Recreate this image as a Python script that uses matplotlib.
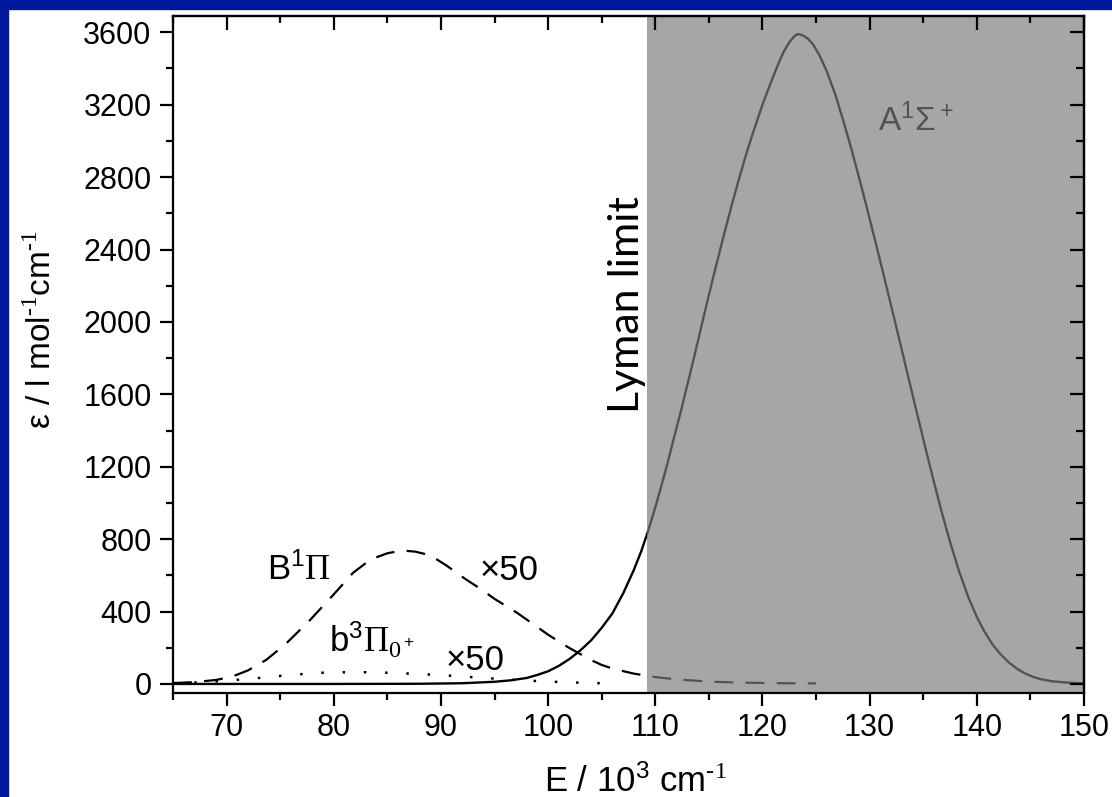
import matplotlib
matplotlib.use("Agg")
import matplotlib.pyplot as plt
from matplotlib.patches import Rectangle
from matplotlib.ticker import MultipleLocator

plt.rcParams['font.family'] = ['Liberation Sans', 'DejaVu Sans']
plt.rcParams['mathtext.fontset'] = 'custom'
plt.rcParams['mathtext.rm'] = 'Liberation Serif'
plt.rcParams['mathtext.sf'] = 'Liberation Sans'
plt.rcParams['mathtext.it'] = 'Liberation Sans:italic'
plt.rcParams['mathtext.default'] = 'regular'

# A1Sigma+ band (solid)
a_E = [65, 80, 88, 92, 95, 96.5, 98, 99, 100, 101, 102, 103, 104, 105, 106, 107,
       108, 108.7, 109.3, 110, 110.5, 111.1, 111.7, 112.4, 113, 113.6, 114.2, 114.8,
       115.5, 116.4, 117.2, 118, 118.6, 119.2, 120, 120.7, 121.3, 121.7, 122.0,
       122.5, 123.0, 123.3, 123.7, 124.2, 124.7, 125.3, 126, 126.8, 127.6, 128.3,
       129, 129.7, 130.4, 131.2, 132, 132.5, 133, 133.7, 134.5, 135.2, 136, 136.7,
       137.5, 138.3, 139.2, 140, 140.7, 141.5, 142.2, 143, 143.8, 144.5, 145.3,
       146, 147, 148.5, 150]
a_eps = [0, 0, 1, 4, 12, 20, 33, 50, 70, 100, 138, 185, 240, 310, 390, 500,
         630, 735, 840, 975, 1080, 1210, 1350, 1510, 1655, 1800, 1950, 2100,
         2270, 2480, 2660, 2830, 2950, 3060, 3200, 3310, 3400, 3455, 3495,
         3545, 3580, 3590, 3585, 3567, 3535, 3475, 3385, 3255, 3100, 2955,
         2800, 2640, 2475, 2285, 2090, 1968, 1845, 1672, 1475, 1305, 1115, 955,
         785, 630, 480, 370, 290, 215, 165, 118, 82, 58, 38,
         26, 15, 7, 3]

# B1Pi band x50 (dashed)
b1_E = [65, 67, 69, 70.5, 72, 73.7, 75.5, 77.8, 80, 81.8, 83, 84, 85, 86, 86.8,
        87.6, 88.5, 89.5, 90.5, 91.5, 92.4, 93.7, 95, 97.1, 98.5, 100, 101.8, 103,
        104, 105, 106, 108, 110, 112, 115, 118, 122, 125]
b1_eps = [5, 10, 22, 40, 75, 133, 220, 354, 495, 614, 668, 700, 722, 733, 735,
          731, 718, 692, 655, 612, 575, 525, 470, 393, 335, 272, 205, 165,
          132, 105, 85, 57, 38, 25, 13, 7, 4, 3]

# b3Pi0+ band x50 (dotted)
b3_E = [65, 68, 70, 73, 76, 79, 82, 85, 88, 91, 94, 97, 100, 103, 105]
b3_eps = [3, 10, 18, 33, 50, 62, 66, 62, 55, 45, 33, 22, 13, 7, 4]

lyman = 109.25

fig = plt.figure(figsize=(11.12, 7.97), dpi=100)
fig.patch.set_facecolor('white')
blue = '#0018a0'
fig.patches.append(Rectangle((0, 1 - 9 / 797), 1, 9 / 797, transform=fig.transFigure,
                             color=blue, zorder=0))
fig.patches.append(Rectangle((0, 0), 8 / 1112, 1, transform=fig.transFigure,
                             color=blue, zorder=0))

ax = fig.add_axes([173 / 1112, 104 / 797, 911 / 1112, 677 / 797])

ax.plot(a_E, a_eps, color='black', lw=1.7, zorder=2)
ax.plot(b1_E, b1_eps, color='black', lw=1.6, ls=(0, (8.5, 5.5)), zorder=2)
ax.plot(b3_E, b3_eps, color='black', lw=1.8, ls=(0, (1, 7.5)), zorder=2)

ax.text(130.75, 3053, r'A$^1$Σ$^+$', fontsize=24, color='black', zorder=2.05)
ax.axvspan(lyman, 150, color='#7c7c7c', alpha=0.68, lw=0, zorder=2.1)

ax.text(73.8, 575, r'B$^1$$\mathrm{Π}$', fontsize=25)
ax.text(93.6, 575, '×50', fontsize=25)
ax.text(79.6, 177, r'b$^3$$\mathrm{Π}_{\mathrm{0}^+}$', fontsize=25)
ax.text(90.4, 77, '×50', fontsize=25)
ax.text(109.15, 2096, 'Lyman limit', fontsize=31, family=['Lato', 'DejaVu Sans'],
        rotation=90, ha='right', va='center', zorder=3)

ax.set_xlim(65, 150)
ax.set_ylim(-50, 3690)
ax.xaxis.set_major_locator(MultipleLocator(10))
ax.xaxis.set_minor_locator(MultipleLocator(5))
ax.yaxis.set_major_locator(MultipleLocator(400))
ax.yaxis.set_minor_locator(MultipleLocator(200))
ax.tick_params(which='both', direction='out', top=False, right=False, width=1.6,
               labelsize=22)
ax.tick_params(which='major', length=9.5)
ax.tick_params(which='minor', length=5)
ax.tick_params(axis='y', pad=6)
ax.tick_params(axis='x', pad=5)
for s in ax.spines.values():
    s.set_linewidth(1.6)
    s.set_zorder(3)

secx = ax.secondary_xaxis('top')
secx.xaxis.set_major_locator(MultipleLocator(10))
secx.xaxis.set_minor_locator(MultipleLocator(5))
secx.tick_params(which='both', direction='in', labeltop=False, width=1.6)
secx.tick_params(which='major', length=10)
secx.tick_params(which='minor', length=5)
secx.spines['top'].set_linewidth(1.6)
secx.set_zorder(3)

secy = ax.secondary_yaxis('right')
secy.yaxis.set_major_locator(MultipleLocator(400))
secy.yaxis.set_minor_locator(MultipleLocator(200))
secy.tick_params(which='both', direction='in', labelright=False, width=1.6)
secy.tick_params(which='major', length=10)
secy.tick_params(which='minor', length=5.5)
secy.spines['right'].set_linewidth(1.6)
secy.set_zorder(3)

ax.set_xlabel(r'E / 10$^3$ cm$^{\text{-1}}$', fontsize=25)
ax.xaxis.set_label_coords(0.508, -0.146)
ax.xaxis.label.set_va('baseline')
ax.set_ylabel(r'ε / l mol$^{\text{-1}}$cm$^{\text{-1}}$', fontsize=24)
ax.yaxis.set_label_coords(-0.127, 0.536)

fig.savefig('out.png', dpi=100, facecolor=fig.get_facecolor())
